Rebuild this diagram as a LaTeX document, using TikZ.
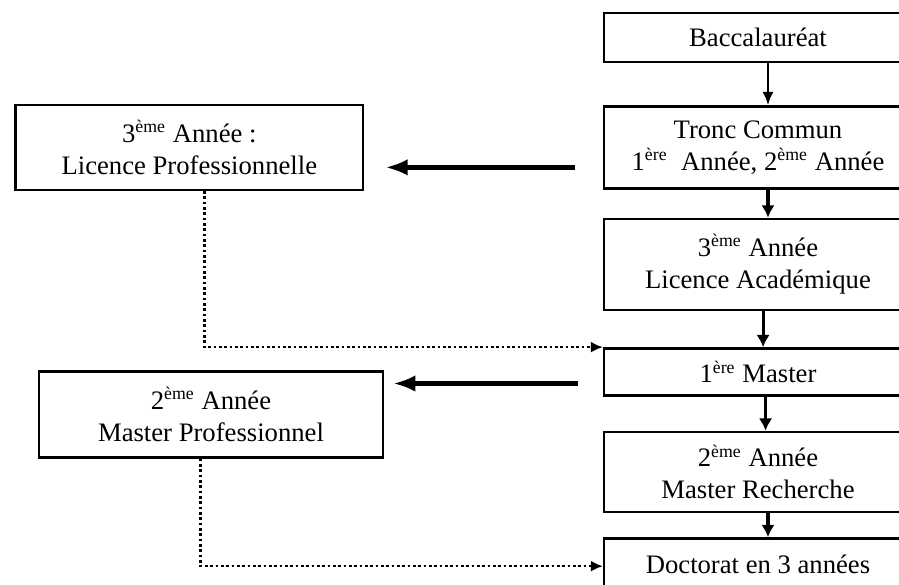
\documentclass[tikz,border=0pt]{standalone}
\usepackage{fontspec}
\setmainfont{Liberation Serif}
\usetikzlibrary{arrows.meta,positioning}

\begin{document}
\begin{tikzpicture}[x=0.45pt,y=-0.45pt,>={Latex[length=6pt,width=5pt]}]
	  \tikzset{level/.style= {draw, rectangle, line width=1.1pt, align=center, minimum width=138.4pt, inner sep=2pt, font=\fontsize{12}{14.5}\selectfont},
	  	side/.style={draw, shape=rectangle, line width=1.1pt, align=center, minimum width=156.4pt, minimum height=38.3pt, font=\fontsize{12}{14.5}\selectfont},
	  	smalllink/.style={line width=0.9pt, ->},
	  	biglink/.style={line width=1.4pt, -{Latex[length=5.5pt,width=6pt]}},
	  	sidelink/.style={line width=2.2pt, -{Latex[length=10pt,width=7.5pt]}},
	  	dotlink/.style={ % dotted path to the next level
	  		line width=1.2pt,
	  		dash pattern=on 1.2pt off 1.2pt,
	  		-{Latex[length=5.5pt,width=5pt]}
	  	},
	  }
	  \useasboundingbox (0,0) rectangle (899,585);
	  \node [level, minimum height=22pt] (bacc) at (758,37.5) {Baccalauréat};
	  \node [level, minimum height=36.9pt, below=18.9pt of bacc] (tronc) {Tronc Commun\\1\textsuperscript{ère}~ Année, 2\textsuperscript{ème} Année};
	  \node [level, minimum height=41pt, below=12.6pt of tronc] (licacad) {3\textsuperscript{ème} Année\\Licence Académique};
	  \node [level, minimum height=21.2pt, below=16.2pt of licacad] (master) {1\textsuperscript{ère} Master};
	  \node [level, minimum height=36pt, below=15.3pt of master] (mrech) {2\textsuperscript{ème} Année\\Master Recherche};
	  \node [level, minimum height=23pt, below=10.8pt of mrech] (doct) {Doctorat en 3 années};
	  \node [side, left=107.4pt of tronc] (licpro) {3\textsuperscript{ème} Année :\\Licence Professionnelle};
	  \node [side, minimum width=154.9pt, minimum height=38.7pt, left=98.4pt of master, yshift=-19.1pt] (mpro) {2\textsuperscript{ème} Année\\Master Professionnel};

	  %% paths
	  \draw[smalllink] ([xshift=4.5pt]bacc.south) -- ([xshift=4.5pt]tronc.north);
	  \draw[biglink] ([xshift=4.5pt]tronc.south) -- ([xshift=4.5pt]licacad.north);
	  \draw[biglink] ([xshift=2.3pt]licacad.south) -- ([xshift=2.3pt]master.north);
	  \draw[biglink] ([xshift=3.4pt]master.south) -- ([xshift=3.4pt]mrech.north);
	  \draw[biglink] ([xshift=4.5pt]mrech.south) -- ([xshift=4.5pt]doct.north);
	  \draw[sidelink, shorten <=12.6pt, shorten >=9.5pt] ([yshift=-9pt]tronc.west) -- ([yshift=-9pt]licpro.east);
	  \draw[sidelink, shorten <=11.3pt, shorten >=4pt] ([yshift=-5.2pt]master.west) -- ([yshift=-5.2pt]master.west -| mpro.east);
	  \draw[dotlink] ([xshift=6.75pt]licpro.south) |- (master.north west);
	  \draw[dotlink] ([xshift=-4.7pt]mpro.south) |- ([yshift=-1pt]doct.west);
	  \end{tikzpicture}
\end{document}
